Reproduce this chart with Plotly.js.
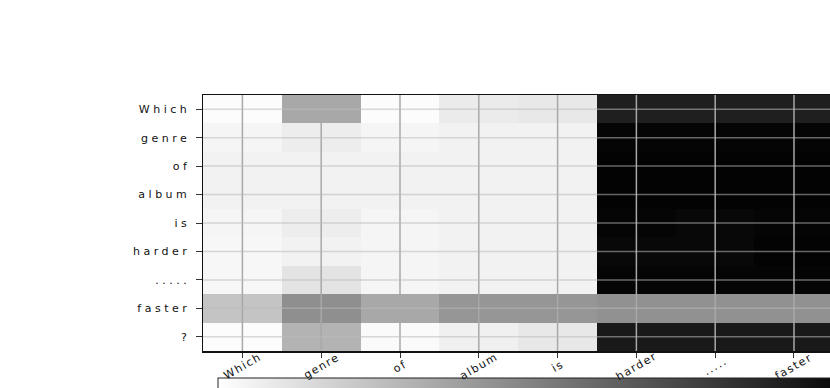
<!DOCTYPE html>
<html>
<head>
<meta charset="utf-8">
<script src="https://cdn.plot.ly/plotly-3.0.1.min.js"></script>
<style>
  body { margin: 0; background: #fff; }
  #chart { width: 830px; height: 388px; }
  .ytick text { letter-spacing: 3.5px; }
  .annotation-text { letter-spacing: 1.5px; }
</style>
</head>
<body>
<div id="chart"></div>
<script>
// attention map: query tokens (rows) vs. key tokens (columns)
var rowTokens = ['Which', 'genre', 'of', 'album', 'is', 'harder', '.....', 'faster', '?'];
var colTokens = ['Which', 'genre', 'of', 'album', 'is', 'harder', '.....', 'faster'];

var rowWhich  = [0.01, 0.34, 0.01, 0.08, 0.09, 0.88, 0.88, 0.88];
var rowGenre  = [0.04, 0.07, 0.04, 0.05, 0.05, 0.98, 0.98, 0.98];
var rowOf     = [0.05, 0.05, 0.05, 0.05, 0.05, 0.99, 0.99, 0.99];
var rowAlbum  = [0.05, 0.05, 0.05, 0.05, 0.05, 0.99, 0.99, 0.99];
var rowIs     = [0.04, 0.07, 0.04, 0.05, 0.05, 0.98, 0.97, 0.98];
var rowHarder = [0.03, 0.05, 0.04, 0.05, 0.05, 0.97, 0.97, 0.99];
var rowDots   = [0.03, 0.11, 0.04, 0.05, 0.05, 0.98, 0.98, 0.98];
var rowFaster = [0.23, 0.44, 0.34, 0.41, 0.41, 0.43, 0.43, 0.43];
var rowQmark  = [0.01, 0.30, 0.02, 0.06, 0.09, 0.90, 0.90, 0.90];

var z = [rowWhich, rowGenre, rowOf, rowAlbum, rowIs, rowHarder, rowDots, rowFaster, rowQmark];

var heat = {
  type: 'heatmap',
  x: colTokens.map(function (t, i) { return i; }),
  y: rowTokens.map(function (t, i) { return i; }),
  z: z,
  zmin: 0,
  zmax: 1,
  colorscale: [[0, '#ffffff'], [1, '#000000']],
  hoverinfo: 'skip',
  colorbar: {
    orientation: 'h',
    x: 0.024,
    xanchor: 'left',
    y: -0.105,
    yanchor: 'top',
    lenmode: 'pixels',
    len: 640,
    thickness: 25,
    xpad: 0,
    ypad: 0,
    outlinewidth: 1,
    outlinecolor: '#222',
    ticks: '',
    showticklabels: false
  }
};

// grid lines sit above the cells
var shapes = [];
colTokens.forEach(function (t, i) {
  shapes.push({ type: 'line', layer: 'above', xref: 'x', yref: 'paper',
    x0: i, x1: i, y0: 0, y1: 1, line: { color: '#a8a8a8', width: 1.5 } });
});
rowTokens.forEach(function (t, j) {
  shapes.push({ type: 'line', layer: 'above', xref: 'paper', yref: 'y',
    x0: 0, x1: 1, y0: j, y1: j, line: { color: 'rgba(185,185,185,0.55)', width: 1.5 } });
});

// rotated, centred column labels
var annotations = colTokens.map(function (t, i) {
  return { text: t, x: i, xref: 'x', y: -0.06, yref: 'paper',
    showarrow: false, textangle: -30, xanchor: 'center', yanchor: 'middle',
    font: { family: 'DejaVu Sans', size: 11, color: '#111' } };
});

var layout = {
  width: 830,
  height: 388,
  margin: { l: 203, r: 0, t: 95, b: 37, autoexpand: false },
  paper_bgcolor: '#ffffff',
  plot_bgcolor: '#ffffff',
  font: { family: 'DejaVu Sans', size: 11, color: '#111' },
  xaxis: {
    range: [-0.5, 7.457],
    tickvals: colTokens.map(function (t, i) { return i; }),
    showticklabels: false,
    ticks: 'outside', ticklen: 5, tickcolor: '#333',
    showgrid: false, zeroline: false,
    showline: true, linecolor: '#111', linewidth: 1.5, mirror: true
  },
  yaxis: {
    range: [8.5, -0.5],
    tickvals: rowTokens.map(function (t, i) { return i; }),
    ticktext: rowTokens,
    ticks: 'outside', ticklen: 6, tickcolor: '#333',
    ticklabelstandoff: 3,
    showgrid: false, zeroline: false,
    showline: true, linecolor: '#111', linewidth: 1.5
  },
  shapes: shapes,
  annotations: annotations
};

Plotly.newPlot('chart', [heat], layout, { displayModeBar: false, staticPlot: true });
</script>
</body>
</html>
